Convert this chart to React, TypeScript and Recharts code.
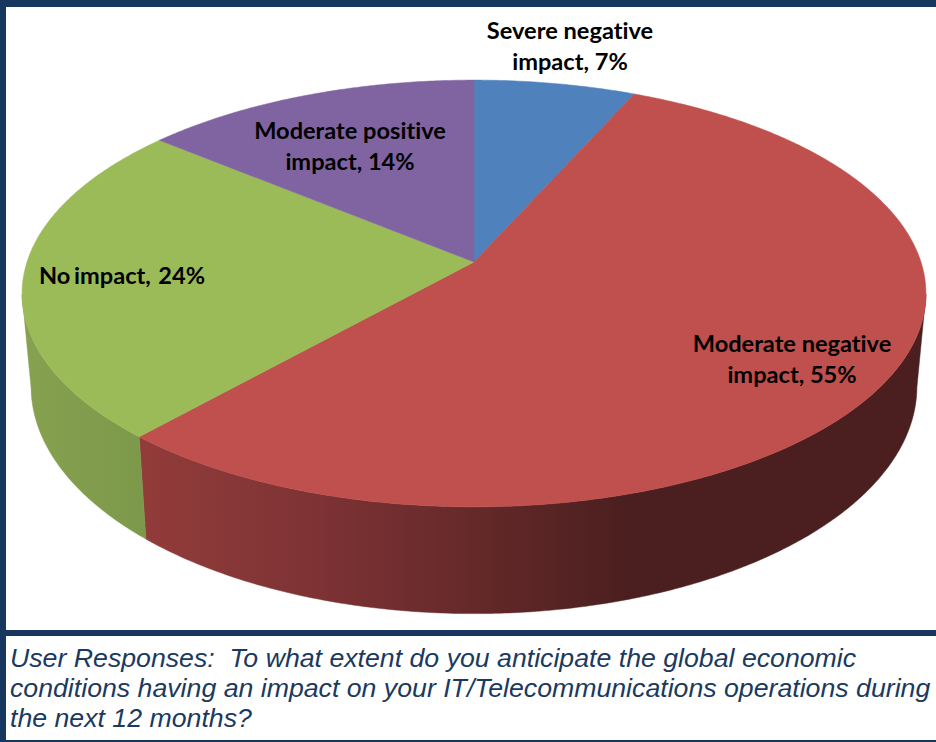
import { PieChart, Pie, Cell } from "recharts";

const categories = ["Severe negative impact", "Moderate negative impact", "No impact", "Moderate positive impact"];
const shares = [7, 55, 24, 14];
const sliceColors = ["#4f81bd", "#c0504d", "#9bbb59", "#8064a2"];
const wallFills = ["#4f81bd", "url(#redWall)", "url(#greenWall)", "#8064a2"];

// text pieces for the data labels, split where they wrap
const labelLines = [
    ["Severe negative", "impact, 7%"],
    ["Moderate negative", "impact, 55%"],
    ["No impact,  24%"],
    ["Moderate positive", "impact, 14%"],
];
const labelAnchors = [
    [570, 39],
    [792, 352],
    [122, 284],
    [350, 139],
];

const captionLines = [
    "User Responses:  To what extent do you anticipate the global economic",
    "conditions having an impact on your IT/Telecommunications operations during",
    "the next 12 months?",
];

const NAVY = "#17375e";

// tilt of the disc: flattening, perspective strength, rim height
const SQUASH = 0.467;
const PERSPECTIVE = 0.1475;
const RIM = 91;
const BOTTOM_SCALE = 0.98;

const rad = (deg: number) => (deg * Math.PI) / 180;

function project(cx: number, cy: number, r: number, deg: number) {
    // clockwise angle from 12 o'clock, nudged a little because the tilted view bunches the rim
    const theta = 90 - deg;
    const bent = theta - 1.5 * Math.sin(rad(theta)) - 2.6 * Math.sin(rad(theta / 2));
    const u = Math.sin(rad(bent));
    const v = Math.cos(rad(bent));
    const w = 1 + PERSPECTIVE * v;
    return { x: cx + (r * u) / w, y: cy - (r * SQUASH * v) / w, w, v };
}

function arcPoints(cx: number, cy: number, r: number, from: number, to: number) {
    const steps = Math.max(2, Math.ceil(Math.abs(from - to) * 2));
    const pts = [];
    for (let i = 0; i <= steps; i++) {
        pts.push(project(cx, cy, r, from + ((to - from) * i) / steps));
    }
    return pts;
}

const toPath = (pts: { x: number; y: number }[]) =>
    pts.map((p, i) => `${i === 0 ? "M" : "L"}${p.x.toFixed(2)} ${p.y.toFixed(2)}`).join(" ") + " Z";

// one slice: the front rim (only the part facing the viewer) and the flat top
function DiscSlice(props: any) {
    const { cx, cy, outerRadius, startAngle, endAngle, fill, index } = props;
    const rimArc = arcPoints(cx, cy, outerRadius, startAngle, endAngle);
    const top = rimArc.filter((p) => p.v <= -PERSPECTIVE);

    let wall = null;
    if (top.length > 1) {
        const bottom = top
            .map((p) => ({ x: cx + (p.x - cx) * BOTTOM_SCALE, y: p.y + RIM / p.w }))
            .reverse();
        const fillWall = wallFills[index];
        wall = <path d={toPath([...top, ...bottom])} fill={fillWall} stroke={fillWall} strokeWidth={0.5} />;
    }

    return (
        <g>
            {wall}
            <path d={toPath([{ x: cx, y: cy }, ...rimArc])} fill={fill} stroke={fill} strokeWidth={0.5} />
        </g>
    );
}

function SliceLabel(props: any) {
    const { index } = props;
    const [x, y] = labelAnchors[index];
    const lines = labelLines[index];
    return (
        <text
            x={x}
            y={y}
            textAnchor="middle"
            fill="#000"
            style={{
                fontFamily: "Lato",
                fontWeight: 700,
                fontSize: 23.6,
                whiteSpace: "pre",
                fontVariantLigatures: "none",
                wordSpacing: lines.length === 1 ? -2 : 0,
            }}
        >
            {lines.map((line, i) => (
                <tspan key={line} x={x} dy={i === 0 ? 0 : 31}>
                    {line}
                </tspan>
            ))}
        </text>
    );
}

const pieData = categories.map((name, i) => ({ name, value: shares[i] }));

export default function App() {
    return (
        <div style={{ position: "absolute", left: 0, top: 0, width: 936, height: 742, background: "#fff", overflow: "hidden" }}>
            <PieChart width={936} height={630} margin={{ top: 0, right: 0, bottom: 0, left: 0 }}>
                <defs>
                    <linearGradient id="redWall" gradientUnits="userSpaceOnUse" x1={140} y1={0} x2={926} y2={0}>
                        <stop offset="0" stopColor="#923c3a" />
                        <stop offset="0.23" stopColor="#7d3234" />
                        <stop offset="0.42" stopColor="#66292a" />
                        <stop offset="0.62" stopColor="#4b1f1f" />
                        <stop offset="1" stopColor="#4b1f1f" />
                    </linearGradient>
                    <linearGradient id="greenWall" gradientUnits="userSpaceOnUse" x1={24} y1={0} x2={147} y2={0}>
                        <stop offset="0" stopColor="#86a14f" />
                        <stop offset="1" stopColor="#7c984a" />
                    </linearGradient>
                </defs>
                <Pie
                    data={pieData}
                    dataKey="value"
                    cx={474}
                    cy={262}
                    innerRadius={0}
                    outerRadius={447}
                    startAngle={90}
                    endAngle={-270}
                    paddingAngle={0}
                    stroke="none"
                    isAnimationActive={false}
                    shape={DiscSlice}
                    label={SliceLabel}
                    labelLine={false}
                >
                    {pieData.map((entry, index) => (
                        <Cell key={`cell-${index}`} fill={sliceColors[index]} />
                    ))}
                </Pie>
            </PieChart>

            {/* frame */}
            <div style={{ position: "absolute", left: 0, top: 0, width: 936, height: 7, background: NAVY }} />
            <div style={{ position: "absolute", left: 0, top: 0, width: 6, height: 742, background: NAVY }} />
            <div style={{ position: "absolute", left: 0, top: 630, width: 936, height: 6, background: NAVY }} />
            <div style={{ position: "absolute", left: 0, top: 740, width: 936, height: 2, background: NAVY }} />

            {/* question text */}
            <div
                style={{
                    position: "absolute",
                    left: 10,
                    top: 643,
                    width: 926,
                    fontFamily: "'Liberation Sans'",
                    fontStyle: "italic",
                    fontSize: 26.7,
                    lineHeight: "30px",
                    color: "#1a3a60",
                    whiteSpace: "pre",
                }}
            >
                {captionLines.map((line) => (
                    <div key={line}>{line}</div>
                ))}
            </div>
        </div>
    );
}
